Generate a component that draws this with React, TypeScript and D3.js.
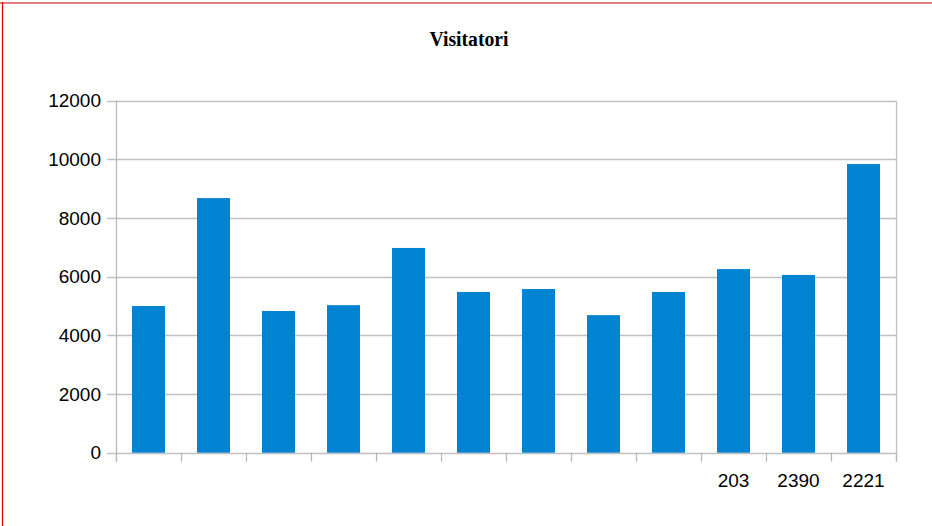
import React from "react";
import * as d3 from "d3";

const categories = ["c1", "c2", "c3", "c4", "c5", "c6", "c7", "c8", "c9", "c10", "c11", "c12"];
const categoryLabels = ["", "", "", "", "", "", "", "", "", "203", "2390", "2221"];
const visitors = [5000, 8680, 4830, 5030, 6980, 5480, 5580, 4690, 5480, 6260, 6060, 9840];
const yTicks = [0, 2000, 4000, 6000, 8000, 10000, 12000];
const title = "Visitatori";

const W = 932;
const H = 526;
const left = 116;
const right = 896;
const top = 100.7;
const bottom = 452.7;

export default function App() {
  const x = d3.scaleBand<string>().domain(categories).range([left, right]).paddingInner(0).paddingOuter(0);
  const y = d3.scaleLinear().domain([0, 12000]).range([bottom, top]);
  const bw = x.bandwidth();
  const barW = bw * 0.508;
  const font = "'Liberation Sans', Arial, sans-serif";
  const tickXs = categories.map((c) => x(c) as number).concat([right]);

  return (
    <svg width={W} height={H} style={{ position: "absolute", left: 0, top: 0, background: "#fff" }}>
      <rect x={0} y={0} width={W} height={H} fill="#fff" />
      {/* frame */}
      <line x1={0} y1={3} x2={W} y2={3} stroke="#e08080" strokeWidth={2} />
      <line x1={2.5} y1={2} x2={2.5} y2={H} stroke="#d40000" strokeWidth={1.2} />

      <text x={469} y={46} textAnchor="middle" fontFamily="'Liberation Serif', 'Times New Roman', serif" fontWeight="bold" fontSize={20} textLength={79} lengthAdjust="spacingAndGlyphs" fill="#000">
        {title}
      </text>

      {/* grid */}
      {yTicks.map((t) => (
        <g key={t}>
          <line x1={left - 9} x2={right} y1={Math.round(y(t)) + 0.5} y2={Math.round(y(t)) + 0.5} stroke="#c0c0c0" strokeWidth={1.3} />
          <text x={101} y={y(t)} dy="0.35em" textAnchor="end" fontFamily={font} fontSize={19} fill="#000">
            {t}
          </text>
        </g>
      ))}
      {/* vertical axes */}
      <line x1={left + 0.5} x2={left + 0.5} y1={top} y2={bottom + 9} stroke="#b8b8b8" strokeWidth={1.3} />
      <line x1={right + 0.5} x2={right + 0.5} y1={top} y2={bottom + 9} stroke="#c0c0c0" strokeWidth={1.3} />
      {tickXs.map((tx, i) => (
        <line key={i} x1={Math.round(tx) + 0.5} x2={Math.round(tx) + 0.5} y1={bottom} y2={bottom + 9} stroke="#b8b8b8" strokeWidth={1.3} />
      ))}

      {/* bars */}
      {categories.map((c, i) => {
        const cx = (x(c) as number) + bw / 2;
        return (
          <rect key={c} x={cx - barW / 2} y={y(visitors[i])} width={barW} height={bottom - y(visitors[i])} fill="#0083d1" />
        );
      })}

      {/* x labels */}
      {categories.map((c, i) => (
        <text key={c} x={(x(c) as number) + bw / 2} y={487} textAnchor="middle" fontFamily={font} fontSize={19} fill="#000">
          {categoryLabels[i]}
        </text>
      ))}
    </svg>
  );
}
